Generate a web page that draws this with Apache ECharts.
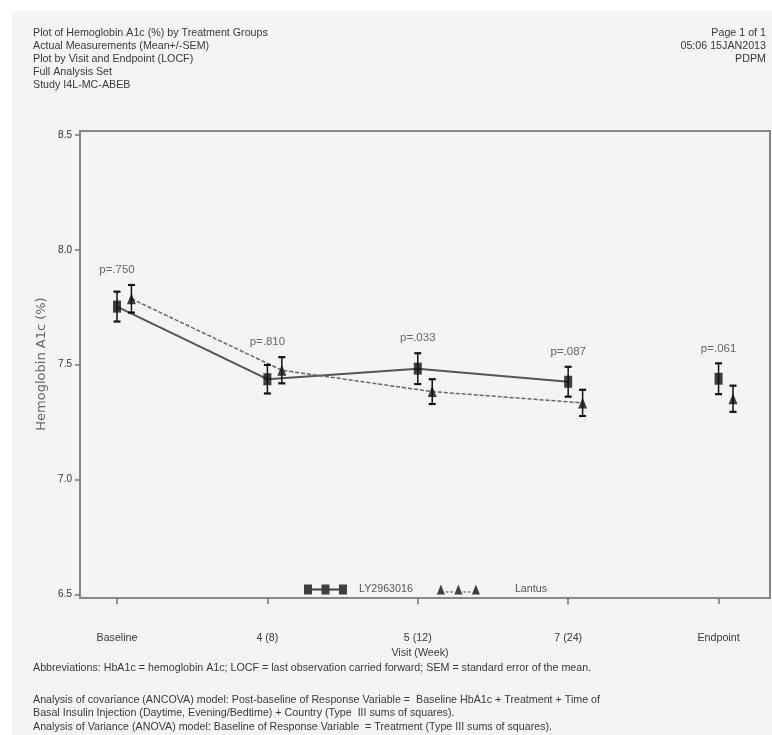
<!DOCTYPE html>
<html>
<head>
<meta charset="UTF-8">
<title>Hemoglobin A1c by Treatment Groups</title>
<script src="https://cdn.jsdelivr.net/npm/echarts@6/dist/echarts.min.js"></script>
<style>
html,body{margin:0;padding:0;background:#fff;}
</style>
</head>
<body>
<div id="box" style="width:772px;height:735px;"></div>
<script type="text/javascript">
// visits on the x axis
var visits = ['Baseline', '4 (8)', '5 (12)', '7 (24)', 'Endpoint'];
// LY2963016 mean and SEM
var lyMean = [7.753, 7.437, 7.483, 7.426, 7.439];
var lySem = [0.065, 0.062, 0.067, 0.065, 0.067];
// Lantus mean and SEM
var lantusMean = [7.787, 7.476, 7.383, 7.334, 7.352];
var lantusSem = [0.060, 0.057, 0.054, 0.057, 0.057];
// p-values per visit
var pValues = ['p=.750', 'p=.810', 'p=.033', 'p=.087', 'p=.061'];
// y ticks
var yTicks = [6.5, 7.0, 7.5, 8.0, 8.5];

var FONT = '"Liberation Sans", Arial, sans-serif';
var FS = 10.7;
var TXT = '#3a3a3a';
var OFF = 0.096; // horizontal offset of the Lantus marks

var mychart = echarts.init(document.getElementById('box'));

function pts(mean, dx, onlyVisits) {
  var out = [];
  for (var i = 0; i < mean.length; i++) {
    if (onlyVisits && visits[i] === 'Endpoint') continue;
    out.push([i + dx, mean[i]]);
  }
  return out;
}
function errs(mean, sem, dx) {
  return mean.map(function (m, i) { return [i + dx, m - sem[i], m + sem[i]]; });
}
function renderErr(params, api) {
  var x = api.value(0);
  var lo = api.coord([x, api.value(1)]);
  var hi = api.coord([x, api.value(2)]);
  var w = 3.5;
  var st = {stroke: '#111', lineWidth: 1.5};
  var cap = {stroke: '#111', lineWidth: 2.2};
  return {type: 'group', children: [
    {type: 'line', shape: {x1: lo[0], y1: lo[1], x2: hi[0], y2: hi[1]}, style: st},
    {type: 'line', shape: {x1: hi[0] - w, y1: hi[1], x2: hi[0] + w, y2: hi[1]}, style: cap},
    {type: 'line', shape: {x1: lo[0] - w, y1: lo[1], x2: lo[0] + w, y2: lo[1]}, style: cap}
  ]};
}

// p label sits above the higher whisker
var pData = visits.map(function (v, i) {
  return {value: [i, Math.max(lyMean[i] + lySem[i], lantusMean[i] + lantusSem[i])], label: {formatter: pValues[i]}};
});

var squaresIcon = 'path://M0,0H8V10H0Z M17.5,0H25.5V10H17.5Z M35,0H43V10H35Z M8,4H17.5V6H8Z M25.5,4H35V6H25.5Z';
var triIcon = 'path://M0,10L4,0L8,10Z M17.5,10L21.5,0L25.5,10Z M35,10L39,0L43,10Z M9,7H11.5V8H9Z M13.5,7H16V8H13.5Z M26.5,7H29V8H26.5Z M31,7H33.5V8H31Z';

var headLeft = ['Plot of Hemoglobin A1c (%) by Treatment Groups', 'Actual Measurements (Mean+/-SEM)',
  'Plot by Visit and Endpoint (LOCF)', 'Full Analysis Set', 'Study I4L-MC-ABEB'];
var headRight = ['Page 1 of 1', '05:06 15JAN2013', 'PDPM'];
var foot = [
  ['Abbreviations: HbA1c = hemoglobin A1c; LOCF = last observation carried forward; SEM = standard error of the mean.', 668],
  ['Analysis of covariance (ANCOVA) model: Post-baseline of Response Variable =  Baseline HbA1c + Treatment + Time of', 700],
  ['Basal Insulin Injection (Daytime, Evening/Bedtime) + Country (Type  III sums of squares).', 713],
  ['Analysis of Variance (ANOVA) model: Baseline of Response Variable  = Treatment (Type III sums of squares).', 727]
];

var graphics = [{type: 'rect', z: -10, silent: true, shape: {x: 12, y: 12, width: 760, height: 723}, style: {fill: '#f4f4f4'}}];
headLeft.forEach(function (t, i) {
  graphics.push({type: 'text', x: 33, y: 33 + i * 13, style: {text: t, font: FS + 'px ' + FONT, fill: TXT, verticalAlign: 'middle'}});
});
headRight.forEach(function (t, i) {
  graphics.push({type: 'text', x: 766, y: 33 + i * 13, style: {text: t, font: FS + 'px ' + FONT, fill: TXT, align: 'right', verticalAlign: 'middle'}});
});
foot.forEach(function (f) {
  graphics.push({type: 'text', x: 33, y: f[1], style: {text: f[0], font: FS + 'px ' + FONT, fill: TXT, verticalAlign: 'middle'}});
});
graphics.push({type: 'text', x: 420, y: 653, style: {text: 'Visit (Week)', font: FS + 'px ' + FONT, fill: TXT, align: 'center', verticalAlign: 'middle'}});
graphics.push({type: 'text', x: 42, y: 364, rotation: Math.PI / 2, style: {text: 'Hemoglobin A1c (%)', font: '13px "DejaVu Sans", sans-serif', fill: '#666', align: 'center', verticalAlign: 'middle'}});

var option = {
  backgroundColor: '#fff',
  animation: false,
  grid: {left: 80, right: 2, top: 131, bottom: 137, show: true, borderColor: '#888', borderWidth: 2},
  xAxis: {
    type: 'value', min: -0.246, max: 4.342,
    axisLine: {onZero: false, lineStyle: {color: '#888', width: 2}},
    axisTick: {customValues: [0, 1, 2, 3, 4], length: 6, lineStyle: {color: '#777', width: 1.5}},
    axisLabel: {customValues: [0, 1, 2, 3, 4], margin: 35, fontFamily: FONT, fontSize: FS, color: TXT,
      formatter: function (v) { return visits[Math.round(v)]; }},
    splitLine: {show: false}
  },
  yAxis: {
    type: 'value', min: 6.485, max: 8.517,
    axisLine: {show: true, onZero: false, lineStyle: {color: '#888', width: 2}},
    axisTick: {show: true, customValues: yTicks, length: 5, lineStyle: {color: '#777', width: 1.5}},
    axisLabel: {customValues: yTicks, margin: 8, fontFamily: FONT, fontSize: 10, color: '#333',
      formatter: function (v) { return v.toFixed(1); }},
    splitLine: {show: false}
  },
  legend: {
    left: 299, top: 579, itemWidth: 43, itemHeight: 10, itemGap: 24,
    textStyle: {fontFamily: FONT, fontSize: FS, color: '#555', padding: [0, 0, 0, 7]},
    data: [
      {name: 'LY2963016', icon: squaresIcon},
      {name: 'Lantus', icon: triIcon, textStyle: {padding: [0, 0, 0, 30]}}
    ]
  },
  series: [
    {type: 'line', data: pts(lyMean, 0, true), symbol: 'none', lineStyle: {color: '#555', width: 2}, z: 2, silent: true},
    {type: 'line', data: pts(lantusMean, OFF, true), symbol: 'none', lineStyle: {color: '#666', width: 1.5, type: [4, 2]}, z: 2, silent: true},
    {type: 'custom', data: errs(lyMean, lySem, 0), renderItem: renderErr, z: 3, silent: true},
    {type: 'custom', data: errs(lantusMean, lantusSem, OFF), renderItem: renderErr, z: 3, silent: true},
    {name: 'LY2963016', type: 'scatter', data: pts(lyMean, 0), symbol: 'rect', symbolSize: [8, 12], itemStyle: {color: '#111'}, z: 4},
    {name: 'Lantus', type: 'scatter', data: pts(lantusMean, OFF), symbol: 'triangle', symbolSize: [9, 11], itemStyle: {color: '#111'}, z: 4},
    {type: 'scatter', data: pData, symbolSize: 0, silent: true,
      label: {show: true, position: 'top', distance: 9, fontFamily: FONT, fontSize: 11.5, color: '#444'}}
  ],
  graphic: graphics
};

mychart.setOption(option);
</script>
</body>
</html>
